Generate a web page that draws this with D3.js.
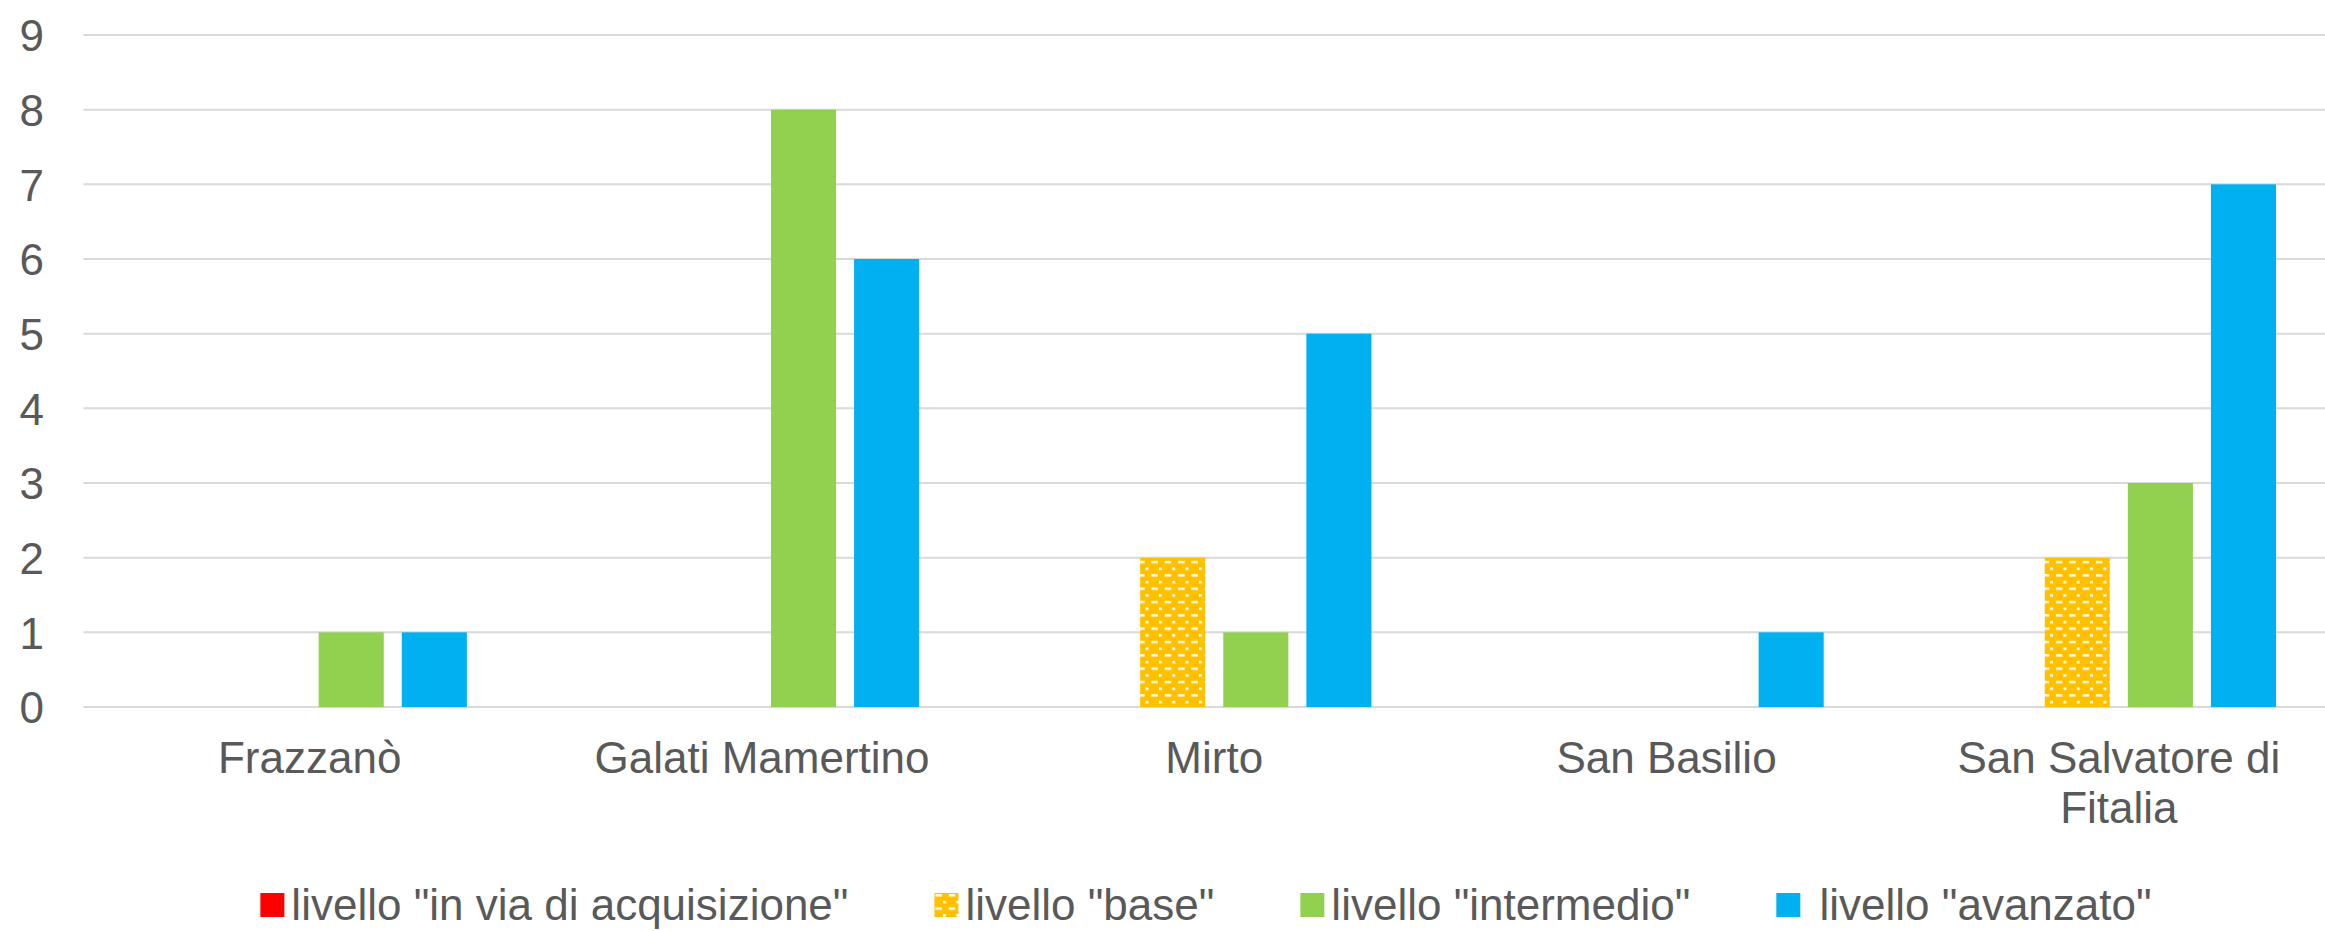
<!DOCTYPE html>
<html><head><meta charset="utf-8">
<script src="https://cdn.jsdelivr.net/npm/d3@7"></script>
<style>
html,body{margin:0;padding:0;background:#fff;}
svg{display:block;font-family:Arial,"Liberation Sans",sans-serif;}
</style>
</head><body>
<svg id="chart" width="2325" height="931"></svg>
<script>
// ---- data ----
const categories = ["Frazzanò", "Galati Mamertino", "Mirto", "San Basilio", "San Salvatore di Fitalia"];
const seriesNames = ['livello "in via di acquisizione"', 'livello "base"', 'livello "intermedio"', ' livello "avanzato"'];
const valInVia = [0, 0, 0, 0, 0];
const valBase = [0, 0, 2, 0, 2];
const valIntermedio = [1, 8, 1, 0, 3];
const valAvanzato = [1, 6, 5, 1, 7];
const yTicks = [0, 1, 2, 3, 4, 5, 6, 7, 8, 9];
const seriesColors = ["#FF0000", "url(#dotgrid)", "#92D050", "#00B0F0"];

const seriesValues = [valInVia, valBase, valIntermedio, valAvanzato];
const data = categories.map((c, i) => ({cat: c, vals: seriesNames.map((s, j) => ({s, v: seriesValues[j][i], j}))}));

const svg = d3.select("#chart");
const textColor = "#595959";
const fontSize = 44;

// pattern for "base"
const defs = svg.append("defs");
const pat = defs.append("pattern").attr("id", "dotgrid").attr("patternUnits", "userSpaceOnUse")
  .attr("width", 13.33).attr("height", 13.33);
pat.append("rect").attr("width", 13.33).attr("height", 13.33).attr("fill", "#FFC000");
pat.append("rect").attr("x", 1).attr("y", 1).attr("width", 6.5).attr("height", 2.4).attr("fill", "#fff").attr("opacity", 0.95);
pat.append("rect").attr("x", 8.5).attr("y", 7.6).attr("width", 3).attr("height", 2.6).attr("fill", "#fff").attr("opacity", 0.95);

const plotLeft = 83.5, plotRight = 2345, plotTop = 35, plotBottom = 707;

const y = d3.scaleLinear().domain([0, 9]).range([plotBottom, plotTop]);
const x0 = d3.scaleBand().domain(categories).range([plotLeft, plotRight]).paddingInner(0.305).paddingOuter(0.1526);
const x1 = d3.scaleBand().domain(seriesNames).range([0, x0.bandwidth()]).paddingInner(0.217);

// gridlines
svg.append("g").selectAll("line").data(yTicks).join("line")
  .attr("x1", plotLeft).attr("x2", 2325)
  .attr("y1", d => y(d)).attr("y2", d => y(d))
  .attr("stroke", "#D9D9D9").attr("stroke-width", 2);

// y axis labels
const yAxis = d3.axisLeft(y).tickValues(yTicks).tickSize(0).tickPadding(0).tickFormat(d3.format("d"));
const gy = svg.append("g").attr("transform", "translate(44,0)").call(yAxis);
gy.select(".domain").remove();
gy.selectAll("text").attr("fill", textColor).style("font-size", fontSize + "px")
  .style("font-family", "Arial, 'Liberation Sans', sans-serif").attr("dy", "0.36em");

// bars
const groups = svg.append("g").selectAll("g").data(data).join("g")
  .attr("transform", d => `translate(${x0(d.cat)},0)`);
groups.selectAll("rect").data(d => d.vals).join("rect")
  .attr("x", d => x1(d.s)).attr("width", x1.bandwidth())
  .attr("y", d => y(d.v)).attr("height", d => y(0) - y(d.v))
  .attr("fill", d => seriesColors[d.j]);

// x axis labels
const xAxis = d3.axisBottom(x0).tickSize(0).tickPadding(0);
const gx = svg.append("g").attr("transform", `translate(0,${plotBottom})`).call(xAxis);
gx.select(".domain").remove();
gx.selectAll("text").attr("fill", textColor).style("font-size", fontSize + "px")
  .style("font-family", "Arial, 'Liberation Sans', sans-serif")
  .attr("y", 0).attr("dy", null)
  .each(function(d) {
    const t = d3.select(this);
    const words = d.split(" ");
    t.text(null);
    const maxW = 400;
    let lines = [], line = [];
    const tmp = t.append("tspan");
    for (const w of words) {
      line.push(w);
      tmp.text(line.join(" "));
      if (tmp.node().getComputedTextLength() > maxW && line.length > 1) {
        line.pop(); lines.push(line.join(" ")); line = [w];
      }
    }
    lines.push(line.join(" "));
    tmp.remove();
    lines.forEach((l, i) => t.append("tspan").attr("x", 0).attr("y", 66 + i * 50).text(l));
  });

// legend
const legend = svg.append("g");
const items = legend.selectAll("g").data(seriesNames).join("g");
items.append("rect").attr("width", 24).attr("height", 24).attr("y", 893)
  .attr("fill", (d, i) => seriesColors[i]);
items.append("text").attr("x", 31).attr("y", 920).attr("fill", textColor)
  .style("font-size", fontSize + "px").style("white-space", "pre").text(d => d);
const gap = 86;
const widths = [];
items.each(function() { widths.push(31 + d3.select(this).select("text").node().getComputedTextLength()); });
const total = d3.sum(widths) + gap * (widths.length - 1);
let cx = 1206 - total / 2;
items.attr("transform", (d, i) => { const tx = cx; cx += widths[i] + gap; return `translate(${tx},0)`; });
</script>
</body></html>
